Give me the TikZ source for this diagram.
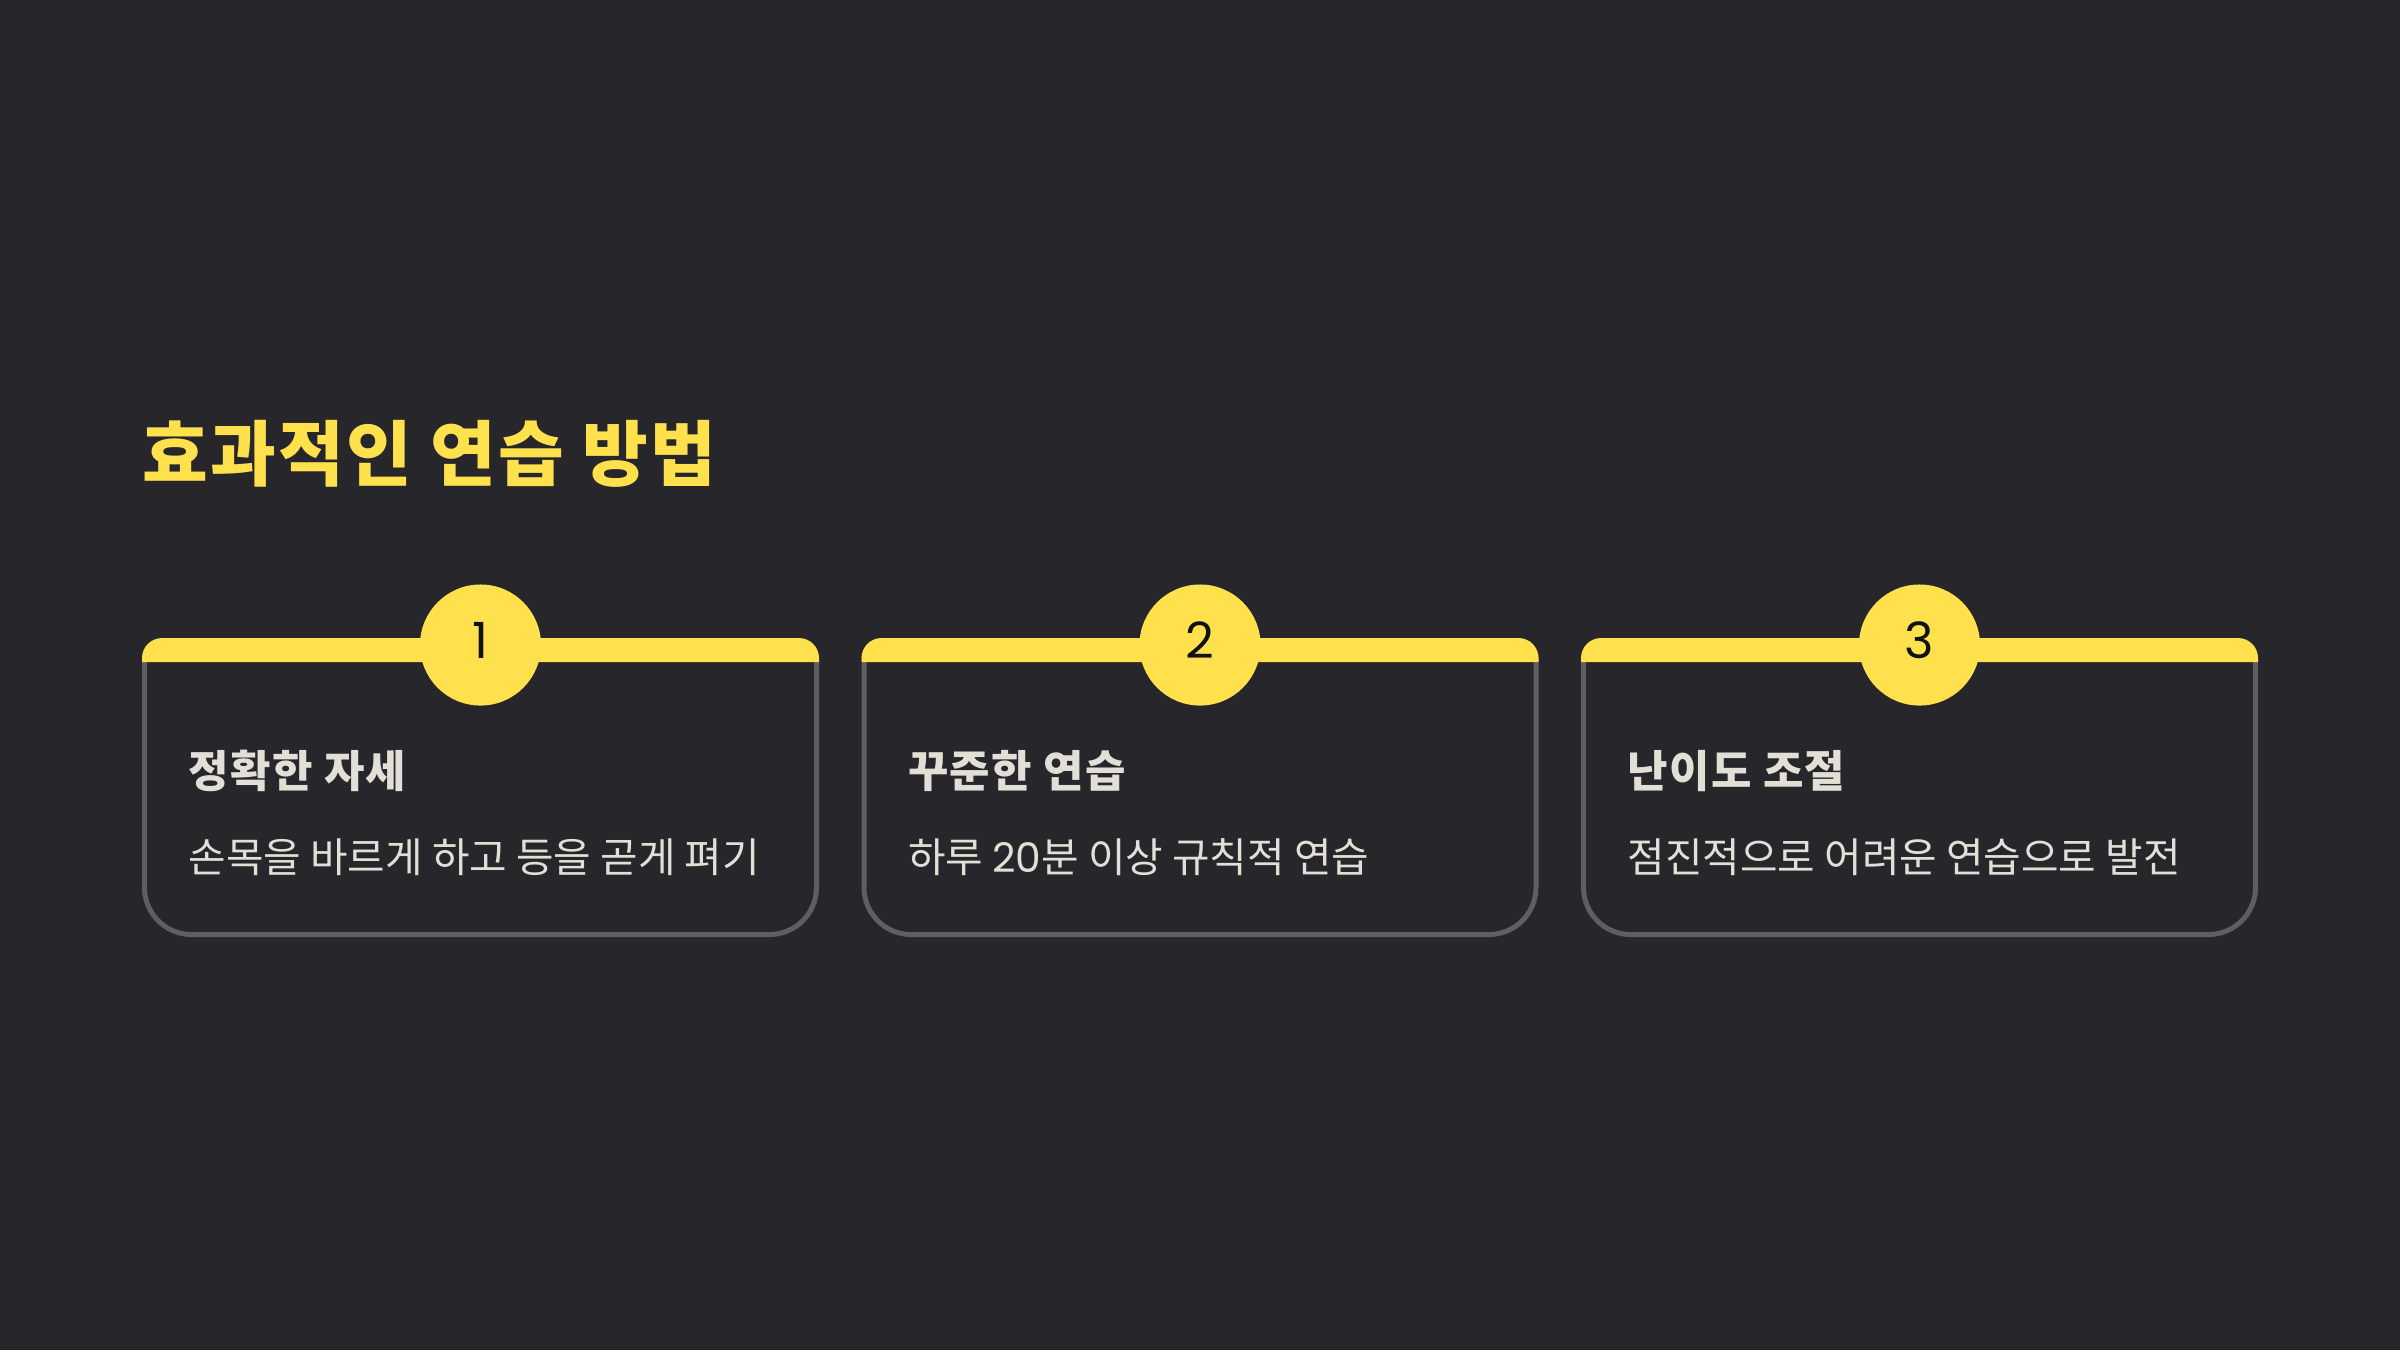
\documentclass[tikz,border=0pt]{standalone}
\usepackage{fontspec}
\newfontfamily\kr{Noto Sans CJK KR}
\newfontfamily\krwide{Noto Sans CJK KR}[LetterSpace=3]
\newfontfamily\pop{Poppins}
\definecolor{bg}{HTML}{26262B}
\definecolor{acc}{HTML}{FFE14D}
\definecolor{edge}{HTML}{5F5E64}
\definecolor{txt}{HTML}{E2DFD6}
\definecolor{numc}{HTML}{111111}
\tikzset{
  titletext/.style={anchor=base west, inner sep=0, text=acc, font=\krwide\bfseries\fontsize{20.3}{24}\selectfont},
  headtext/.style={anchor=base west, inner sep=0, text=txt, font=\krwide\bfseries\fontsize{12.5}{15}\selectfont},
  desctext/.style={anchor=base west, inner sep=0, text=txt, font=\kr\fontsize{11.6}{14}\selectfont},
  badge/.style={circle, fill=acc, minimum size=1.21cm, inner sep=0},
  numtext/.style={text=numc, font=\pop\fontsize{14.2}{16}\selectfont, inner sep=0},
  topbar/.style={fill=acc},
  rim/.style={draw=edge, line width=1.42pt, rounded corners=0.47cm},
}
\begin{document}
\begin{tikzpicture}[x=0.01cm,y=-0.01cm]
\fill[bg] (0,0) rectangle (2400,1350);
\useasboundingbox (0,0) rectangle (2400,1350);
\node[titletext] (title) at (142,480) {효과적인 연습 방법};
\foreach \i/\L/\h/\d in {1/142/정확한 자세/손목을 바르게 하고 등을 곧게 펴기,
                         2/861.5/꾸준한 연습/하루 {\pop 20}분 이상 규칙적 연습,
                         3/1581/난이도 조절/점진적으로 어려운 연습으로 발전}{
  \draw[rim] (\L+2.5,655) -- (\L+2.5,934.5) -- (\L+674.5,934.5) -- (\L+674.5,655);
  \fill[topbar] (\L,662) [rounded corners=0.2cm] -- (\L,638) -- (\L+677,638) [sharp corners] -- (\L+677,662) -- cycle;
  \node[badge] (c\i) at (\L+338.5,645) {};
  \node[numtext] (n\i) at (\L+338.5,640) {\i};
  \node[headtext] (h\i) at (\L+46,787) {\h};
  \node[desctext] (d\i) at (\L+46,872) {\d};
}
\end{tikzpicture}
\end{document}
